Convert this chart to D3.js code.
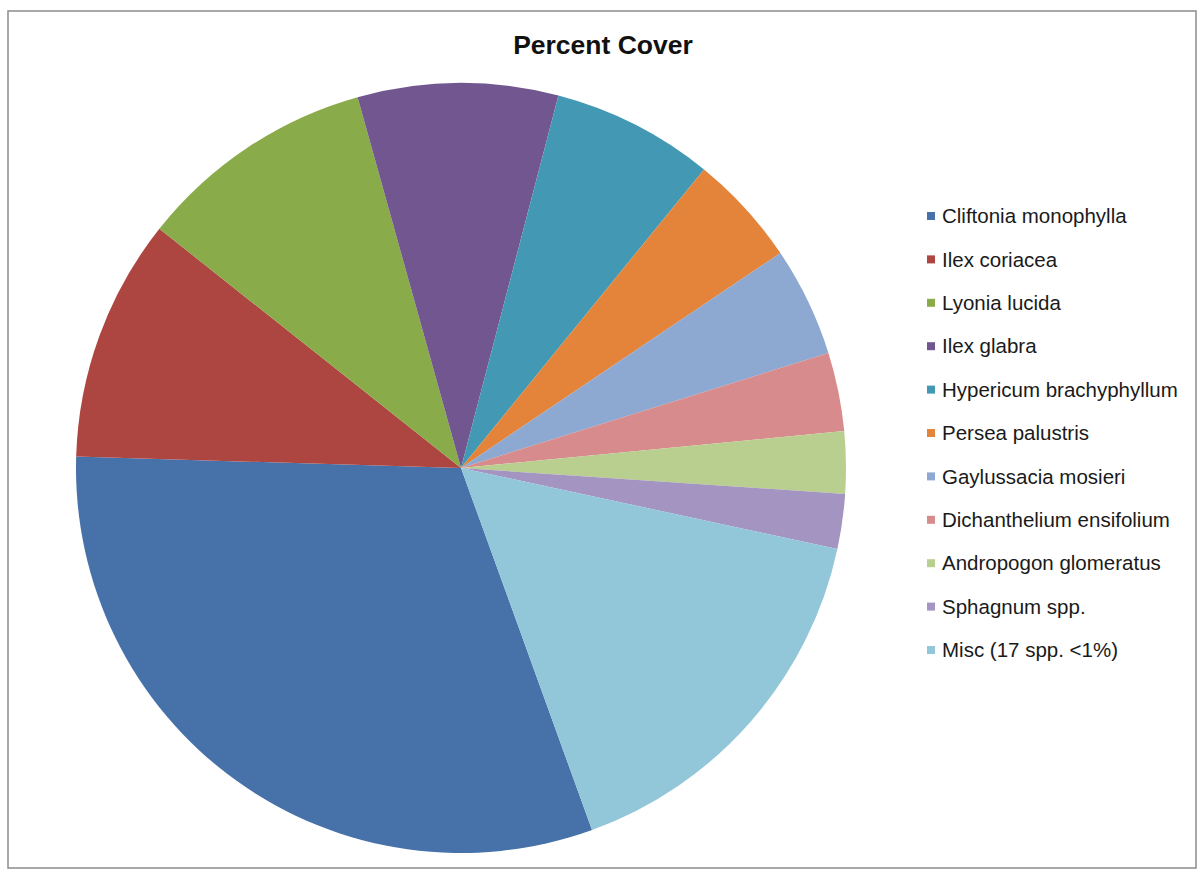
<!DOCTYPE html>
<html>
<head>
<meta charset="utf-8">
<script src="https://cdn.jsdelivr.net/npm/d3@7"></script>
<style>
  body { margin: 0; background: #fff; }
  svg { display: block; font-family: "Liberation Sans", Arial, sans-serif; }
</style>
</head>
<body>
<div id="chart"></div>
<script>
var species = [
  "Cliftonia monophylla",
  "Ilex coriacea",
  "Lyonia lucida",
  "Ilex glabra",
  "Hypericum brachyphyllum",
  "Persea palustris",
  "Gaylussacia mosieri",
  "Dichanthelium ensifolium",
  "Andropogon glomeratus",
  "Sphagnum spp.",
  "Misc (17 spp. <1%)"
];
var cover = [31.0, 10.2, 10.0, 8.4, 6.8, 4.7, 4.6, 3.3, 2.6, 2.3, 16.1];
var colors = [
  "#4671a9", "#ad4540", "#8aab4a", "#71568f", "#4399b3", "#e3843a",
  "#8da8d1", "#d88b8c", "#b9cf8f", "#a394c1", "#92c6d9"
];

var width = 1198,
  height = 869;

var svg = d3
  .select("#chart")
  .append("svg")
  .attr("width", width)
  .attr("height", height);

// chart frame
svg
  .append("rect")
  .attr("x", 8)
  .attr("y", 11)
  .attr("width", 1188)
  .attr("height", 857)
  .style("fill", "none")
  .style("stroke", "#8c8c8c")
  .style("stroke-width", 1.5);

svg
  .append("text")
  .attr("x", 603)
  .attr("y", 54)
  .attr("text-anchor", "middle")
  .style("font-size", "26.5px")
  .style("font-weight", "bold")
  .style("fill", "#111")
  .text("Percent Cover");

var cx = 461,
  cy = 468,
  radius = 385;

var start = (160.1 * Math.PI) / 180;
var pie = d3
  .pie()
  .sort(null)
  .startAngle(start)
  .endAngle(start + 2 * Math.PI);
var arc = d3.arc().innerRadius(0).outerRadius(radius);

var data = species.map(function(d, i) {
  return { name: d, value: cover[i], color: colors[i] };
});

svg
  .append("g")
  .attr("transform", "translate(" + cx + "," + cy + ")")
  .selectAll("path")
  .data(pie.value(d => d.value)(data))
  .enter()
  .append("path")
  .attr("d", arc)
  .style("fill", d => d.data.color);

// legend
var y = d3
  .scalePoint()
  .domain(species)
  .range([216, 650]);

var legend = svg
  .append("g")
  .selectAll("g")
  .data(data)
  .enter()
  .append("g")
  .attr("transform", d => "translate(927," + y(d.name) + ")");

legend
  .append("rect")
  .attr("x", 0)
  .attr("y", -4)
  .attr("width", 8)
  .attr("height", 8)
  .style("fill", d => d.color);

legend
  .append("text")
  .attr("x", 15)
  .attr("dy", "0.35em")
  .style("font-size", "20.5px")
  .style("fill", "#1a1a1a")
  .text(d => d.name);
</script>
</body>
</html>
